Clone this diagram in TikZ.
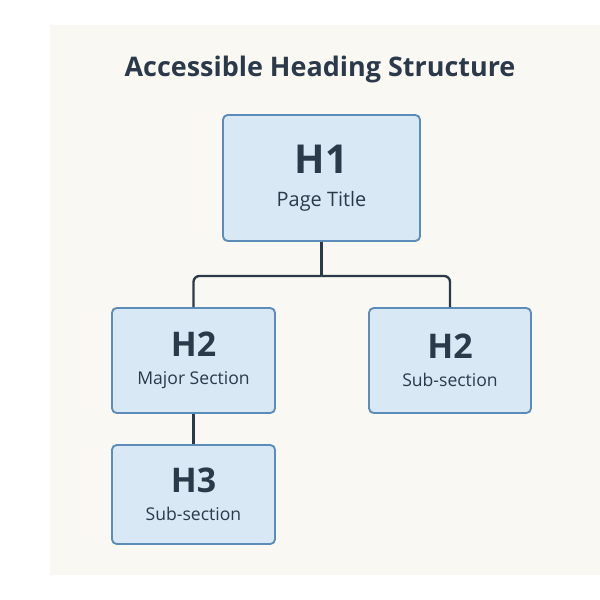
\documentclass[tikz,border=0pt]{standalone}
\usepackage{fontspec}
\setmainfont{Open Sans}
\usetikzlibrary{positioning}
\definecolor{panelbg}{HTML}{FAF8F3}
\definecolor{boxfill}{HTML}{D8E8F4}
\definecolor{boxline}{HTML}{5B8DB8}
\definecolor{ink}{HTML}{2B3A4A}
\begin{document}
\begin{tikzpicture}[x=0.03cm, y=-0.03cm,
    level/.style = {draw=boxline, fill=boxfill, line width=1.6pt, rounded corners=4pt,
                    text=ink, align=center, inner sep=0pt},
    link/.style = {draw=ink, line width=2pt, rounded corners=5pt}]
    \useasboundingbox (0,0) rectangle (600,600);
    \fill[panelbg] (50,25) rectangle (600,575);
    \node[text=ink, font=\fontsize{23}{26}\selectfont\bfseries] (title) at (320,70) {Accessible Heading Structure};

    \node[level, minimum width=197*0.03cm, minimum height=126*0.03cm] (h1) at (321.5,178)
        {{\fontsize{34}{36}\selectfont\bfseries H1}\\[14pt]{\fontsize{17}{20}\selectfont Page Title}};
    \node[level, minimum width=163*0.03cm, minimum height=105*0.03cm] (h2a) at (193.5,360.5)
        {{\fontsize{29}{32}\selectfont\bfseries H2}\\[12pt]{\fontsize{15}{18}\selectfont Major Section}};
    \node[level, minimum width=162*0.03cm, minimum height=105*0.03cm] (h2b) at (450,360.5)
        {{\fontsize{29}{32}\selectfont\bfseries H2}\\[12pt]{\fontsize{15}{18}\selectfont Sub-section}};
    \node[level, minimum width=163*0.03cm, minimum height=99*0.03cm] (h3) at (193.5,494.5)
        {{\fontsize{29}{32}\selectfont\bfseries H3}\\[12pt]{\fontsize{15}{18}\selectfont Sub-section}};

    \coordinate (fork) at (321.5,276);
    \draw[link] (h1.south) -- (fork);
    \draw[link] (fork) -| (h2a.north);
    \draw[link] (fork) -| (h2b.north);
    \draw[link] (h2a.south) -- (h3.north);
\end{tikzpicture}
\end{document}
